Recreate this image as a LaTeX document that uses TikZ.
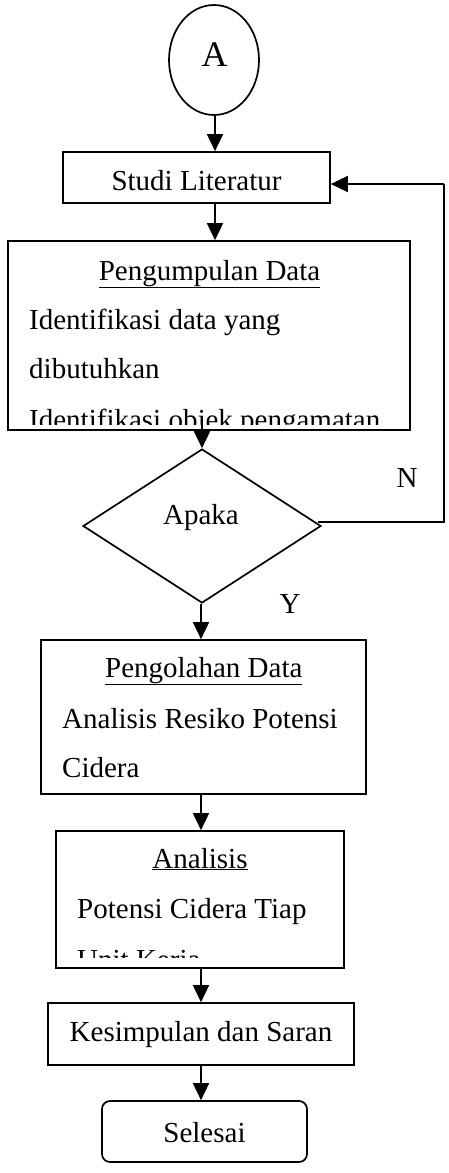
\documentclass[tikz,border=0pt]{standalone}
\usepackage{fontspec}
\setmainfont{Liberation Serif}
\usetikzlibrary{arrows.meta,shapes.geometric,calc}
\begin{document}
\begin{tikzpicture}[x=1pt,y=-1pt,
  every node/.style={font=\fontsize{29}{35}\selectfont},
  box/.style={draw,line width=1.7pt,inner sep=0pt,minimum width=#1},
  txt/.style={inner sep=0pt,anchor=base},
  ltxt/.style={inner sep=0pt,anchor=base west},
  conn/.style={line width=1.8pt,-{Triangle[length=17pt,width=16pt]}},
  plain/.style={line width=1.8pt}]
\useasboundingbox (0,0) rectangle (449,1173);
% start connector
\node[draw,line width=1.7pt,ellipse,minimum width=90pt,minimum height=110pt,inner sep=0pt] (a) at (214,60) {};
\node[txt,font=\fontsize{36}{40}\selectfont] (at) at (214.5,66) {A};
% Studi Literatur
\node[box=267pt,minimum height=51pt] (studi) at (196.5,177.5) {};
\node[txt] (studit) at (196.5,190) {Studi Literatur};
% Pengumpulan Data
\node[box=402pt,minimum height=189pt] (pd) at (209,335.5) {};
\begin{scope}
\clip (8,241) rectangle (410,424);
\node[txt] (pdh) at (209.5,280) {\underline{Pengumpulan Data}};
\node[ltxt] (pd1) at (29,329) {Identifikasi data yang};
\node[ltxt] (pd2) at (29,378) {dibutuhkan};
\node[ltxt] (pd3) at (29,429) {Identifikasi objek pengamatan};
\end{scope}
% decision
\node[draw,line width=1.7pt,diamond,minimum width=238pt,minimum height=154pt,inner sep=0pt] (dia) at (202,526) {};
\node[txt] (diat) at (201,524) {Apaka};
\node[txt] (nlab) at (407,487) {N};
\node[txt] (ylab) at (290,613) {Y};
% Pengolahan Data
\node[box=325pt,minimum height=154pt] (pg) at (203.5,717) {};
\node[txt] (pgh) at (203.8,677) {\underline{Pengolahan Data}};
\node[ltxt] (pg1) at (62,728) {Analisis Resiko Potensi};
\node[ltxt] (pg2) at (62,777) {Cidera};
% Analisis
\node[box=288pt,minimum height=137pt] (an) at (200,899.5) {};
\begin{scope}
\clip (56,831) rectangle (344,957);
\node[txt] (anh) at (200,868) {\underline{Analisis}};
\node[ltxt] (an1) at (77,918) {Potensi Cidera Tiap};
\node[ltxt] (an2) at (77,969) {Unit Kerja};
\end{scope}
% Kesimpulan
\node[box=306pt,minimum height=62pt] (ks) at (201,1034) {};
\node[txt] (kst) at (201,1041) {Kesimpulan dan Saran};
% Selesai
\node[box=205pt,minimum height=61pt,rounded corners=8pt] (sl) at (204.5,1131.5) {};
\node[txt] (slt) at (204.5,1142) {Selesai};
% connectors
\coordinate (c1) at (215,0);
\coordinate (c2) at (201,0);
\coordinate (nr) at (444,522);
\coordinate (nt) at (444,184);
\draw[conn] (a.south -| c1) -- (studi.north -| c1);
\draw[conn] (studi.south -| c1) -- (pd.north -| c1);
\draw[conn] ($(pd.south -| dia.north)+(0,-12)$) -- (dia.north);
\draw[plain] ($(dia.east)+(-4,-4)$) -- (nr) -- (nt);
\draw[conn] (nt) -- (studi.east |- nt);
\draw[conn] (dia.south -| c2) -- (pg.north -| c2);
\draw[conn] (pg.south -| c2) -- (an.north -| c2);
\draw[conn] (an.south -| c2) -- (ks.north -| c2);
\draw[conn] (ks.south -| c2) -- (sl.north -| c2);
\end{tikzpicture}
\end{document}
